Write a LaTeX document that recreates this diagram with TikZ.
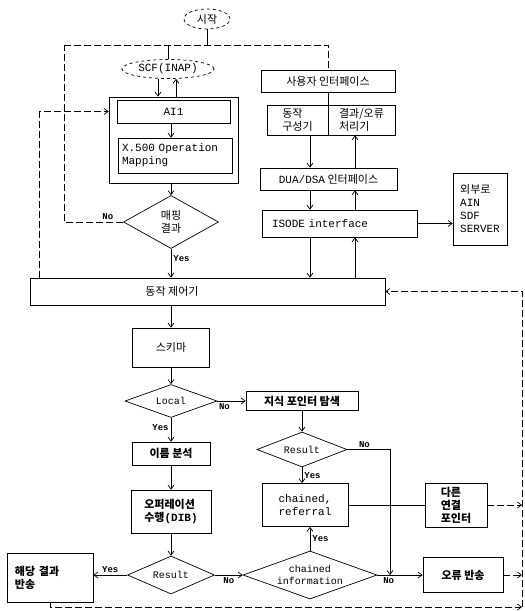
\documentclass[tikz,border=0pt]{standalone}
\usepackage{fontspec}
\setmainfont{Liberation Mono}
\newfontfamily\kr{Noto Sans CJK KR}
\usetikzlibrary{shapes.geometric}
\usetikzlibrary{arrows.meta}
\newcommand\ksize{\fontsize{11}{13}\selectfont}

\tikzset{
  box/.style={draw, rectangle, inner sep=2pt, align=center},
  dia/.style={draw, diamond, inner sep=0pt, align=center, font=\fontsize{10}{12}\selectfont},
  oval/.style={draw, dashed, ellipse, inner sep=1pt},
  kr/.style={font=\kr\ksize},
  krb/.style={font=\kr\bfseries\ksize},
  yn/.style={font=\fontsize{9}{10}\selectfont\bfseries, inner sep=2pt},
  retline/.style={dash pattern=on 7pt off 3pt},
}

\begin{document}
\begin{tikzpicture}[x=1pt, y=-1pt, line width=0.7pt, >={Straight Barb[length=4pt,width=6pt]}, font=\ksize]
\useasboundingbox (0,0) rectangle (525,611);

% Start and SCF
\node[oval, kr, minimum width=46, minimum height=20] (start) at (207,19) {시작};
\node[oval, minimum width=92, minimum height=19] (scf) at (168,69) {SCF(INAP)};

% Mapping block
\node[draw, minimum width=129, minimum height=86] (outer) at (173.5,140) {};
\node[box, minimum width=113, minimum height=23] (ai) at (173.5,111.5) {AI1};
\node[box, align=left, text width=106, minimum width=114, minimum height=35] (mapping) at (175,155.5) {X.500 Operation\\Mapping};
\node[dia, kr, aspect=1.8, minimum width=95, minimum height=53] (mapres) at (171,222) {매핑\\결과};

% User side
\node[box, kr, minimum width=134, minimum height=22] (ui) at (328,81) {사용자 인터페이스};
\node[box, kr, align=left, minimum width=61, minimum height=30] (build) at (297.5,120) {동작\\구성기};
\node[box, kr, align=left, minimum width=67, minimum height=30] (proc) at (361.5,120) {결과/오류\\처리기};
\node[box, kr, minimum width=137, minimum height=22] (dua) at (328.5,179) {{\rmfamily DUA/DSA} 인터페이스};
\node[box, align=left, text width=135, minimum width=155, minimum height=27] (isode) at (339.5,223.5) {ISODE interface};
\node[box, align=left, minimum width=54, minimum height=72] (ext) at (480,209) {{\kr 외부로}\\AIN\\SDF\\SERVER};

% Controller
\node[draw, minimum width=355, minimum height=27] (ctrl) at (207.5,291.5) {};
\node[kr] (ctrltxt) at (172,291.5) {동작 제어기};

% Lower flow
\node[box, kr, minimum width=77, minimum height=39] (schema) at (171,347.5) {스키마};
\node[dia, aspect=2.8, minimum width=92, minimum height=33] (local) at (171,401) {Local};
\node[box, krb, minimum width=112, minimum height=19] (know) at (302,401) {지식 포인터 탐색};
\node[dia, aspect=2.6, minimum width=90, minimum height=35] (res1) at (302,449.5) {Result};
\node[box, align=left, minimum width=86, minimum height=43] (chref) at (305,505) {chained,\\referral};
\node[box, krb, align=left, minimum width=62, minimum height=44] (other) at (456,505) {다른\\연결\\포인터};
\node[box, krb, minimum width=78, minimum height=23] (name) at (171,453.5) {이름 분석};
\node[box, krb, align=left, minimum width=80, minimum height=43] (oper) at (171,511.5) {오퍼레이션\\수행{\rmfamily(DIB)}};
\node[dia, aspect=2.3, minimum width=87, minimum height=38] (res2) at (171,575) {Result};
\node[dia, aspect=2.8, minimum width=134, minimum height=48] (chinfo) at (310,575) {chained\\information};
\node[box, krb, minimum width=80, minimum height=35] (err) at (463,575) {오류 반송};
\node[box, krb, align=left, text width=70, minimum width=86, minimum height=49] (ret) at (50,577.5) {해당 결과\\반송};

% Helper points
\coordinate (top) at (207,45);
\coordinate (topl) at (64,45);
\coordinate (topr) at (328,45);
\coordinate (colA) at (310,0);
\coordinate (colB) at (355,0);
\coordinate (colC) at (390,0);
\coordinate (bus) at (522,291.5);
\coordinate (busb) at (522,607);

% Top part
\draw (start.south) -- (top);
\draw[retline] (topl) -- (topr) -- (ui.north);
\draw (scf.north |- top) -- (scf.north);
\draw[retline] (mapres.west) -| (topl) node[yn, pos=0.13, above] {No};
\draw[->] ([xshift=-10]scf.south) -- ([xshift=-10]scf.south |- outer.north);
\draw[<-] ([xshift=8]scf.south) -- ([xshift=8]scf.south |- outer.north);
\draw[->] (ai.south -| mapres) -- (mapping.north -| mapres);
\draw[->] (outer.south -| mapres) -- (mapres.north);
\draw[->] (mapres.south) -- (mapres.south |- ctrl.north) node[yn, pos=0.35, right] {Yes};
\draw[->, retline] ([xshift=10]ctrl.north west) |- (outer.west |- ai);

% Right column
\draw (ui.south) -- (ui.south |- build.north);
\foreach \a/\b in {build/dua, dua/isode, isode/ctrl}
  \draw[->] (\a.south -| colA) -- (\b.north -| colA);
\foreach \a/\b in {dua/proc, isode/dua, ctrl/isode}
  \draw[->] (\a.north -| colB) -- (\b.south -| colB);
\draw[->] (isode.east) -- (isode.east -| ext.west);

% Lower part
\draw[->] (ctrl.south -| schema) -- (schema.north);
\foreach \a/\b in {schema/local, name/oper, oper/res2}
  \draw[->] (\a) -- (\b);
\draw[->] (local.south) -- (name.north) node[yn, pos=0.4, left] {Yes};
\draw[->] (local.east) -- (know.west) node[yn, near start, below] {No};
\draw[->] (know.south -| res1) -- (res1.north);
\draw[->] (res1.south) -- (res1.south |- chref.north) node[yn, midway, right] {Yes};
\draw[->] (res1.east) -| (chinfo.east -| colC) node[yn, pos=0.2, above] {No};
\draw (chref.east) -- (other.west);
\draw[->] (chinfo.north) -- (chinfo.north |- chref.south) node[yn, midway, right] {Yes};
\draw[->] (res2.west) -- (res2.west -| ret.east) node[yn, midway, above] {Yes};
\draw[->] (res2.east) -- (chinfo.west) node[yn, midway, below] {No};
\draw[->] (chinfo.east) -- (err.west) node[yn, near start, below] {No};

% Returns on the right
\foreach \n in {other, err}
  \draw[->, retline] (\n.east) -- (\n.east -| bus);
\draw[->, retline] (ret.south) |- (busb);
\draw[->, retline] (busb) -- (bus) -- (ctrl.east);

\end{tikzpicture}
\end{document}
